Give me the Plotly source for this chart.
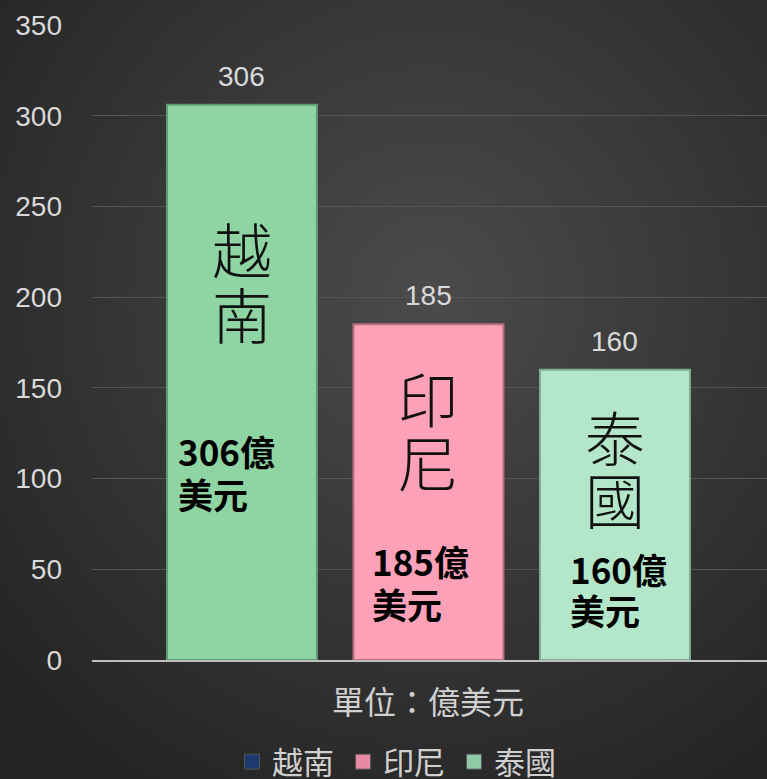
import plotly.graph_objects as go
import base64

countries = ["越南", "印尼", "泰國"]
values = [306, 185, 160]
bar_colors = ["#8fd4a3", "#fda1b8", "#b4e7c9"]
edge_colors = ["#5f9c72", "#b8707f", "#7fae92"]
legend_colors = ["#1f3a6e", "#e88aa3", "#8fc9a8"]
char_y = [[227.6, 191.8], [145.0, 109.7], [124.0, 89.3]]
note_lines = [["306億", "美元"], ["185億", "美元"], ["160億", "美元"]]
note_y = [[115.7, 92.0], [55.1, 31.4], [50.2, 27.6]]
note_dx = [-0.354, -0.311, -0.252]
yticks = [0, 50, 100, 150, 200, 250, 300, 350]
axis_title = "單位：億美元"

CJK = "Noto Sans CJK TC"
W, H = 767, 779
L, R, T, B = 92, 0, 25, 119
pw, ph = W - L - R, H - T - B

fig = go.Figure()
for i, (c, v) in enumerate(zip(countries, values)):
    fig.add_trace(go.Bar(
        x=[i], y=[v], width=0.804, name=c, showlegend=False,
        marker=dict(color=bar_colors[i], line=dict(color=edge_colors[i], width=2)),
        hoverinfo="skip",
    ))
for i, c in enumerate(countries):
    fig.add_trace(go.Scatter(
        x=[None], y=[None], mode="markers", name=c,
        marker=dict(symbol="square", size=15, color=legend_colors[i],
                    line=dict(color="#555555", width=1)),
    ))

ann = []
for i, v in enumerate(values):
    ann.append(dict(x=i, y=v, xref="x", yref="y", text=str(v), showarrow=False,
                    yanchor="bottom", yshift=11,
                    font=dict(family="Liberation Sans, Arial", size=28, color="#d9d9d9")))
    for ch, cy in zip(countries[i], char_y[i]):
        ann.append(dict(x=i, y=cy, xref="x", yref="y", text=ch, showarrow=False,
                        yanchor="middle",
                        font=dict(family=CJK, size=60, color="#111111", weight=300)))
    for line, ly in zip(note_lines[i], note_y[i]):
        ann.append(dict(x=i + note_dx[i], y=ly, xref="x", yref="y",
                        text=line, showarrow=False, xanchor="left", yanchor="middle",
                        font=dict(family=CJK, size=35, color="#000000", weight="bold")))
ann.append(dict(x=(428 - L) / pw, y=-40 / ph, xref="paper", yref="paper", text=axis_title,
                showarrow=False, yanchor="middle",
                font=dict(family=CJK, size=32, color="#d0d0d0")))

svg = f'''<svg xmlns="http://www.w3.org/2000/svg" width="{W}" height="{H}">
<defs><radialGradient id="g" cx="0.56" cy="0.38" r="0.75">
<stop offset="0" stop-color="#4b4b4b"/><stop offset="1" stop-color="#232323"/>
</radialGradient></defs><rect width="{W}" height="{H}" fill="url(#g)"/></svg>'''
src = "data:image/svg+xml;base64," + base64.b64encode(svg.encode()).decode()

fig.update_layout(
    width=W, height=H,
    margin=dict(l=L, r=R, t=T, b=B, autoexpand=False),
    paper_bgcolor="#333333", plot_bgcolor="rgba(0,0,0,0)",
    barmode="overlay",
    images=[dict(source=src, xref="paper", yref="paper", x=-L / pw, y=1 + T / ph,
                 sizex=W / pw, sizey=H / ph, sizing="stretch", xanchor="left",
                 yanchor="top", layer="below")],
    xaxis=dict(range=[-0.804, 2.815], showticklabels=False, showgrid=False,
               zeroline=False, showline=True, linecolor="#bfbfbf", linewidth=2,
               fixedrange=True),
    yaxis=dict(range=[0, 350], tickvals=yticks, showgrid=True, gridcolor="#555555",
               gridwidth=1, zeroline=False, ticks="", ticklabelstandoff=29,
               tickfont=dict(family="Liberation Sans, Arial", size=28, color="#d9d9d9")),
    legend=dict(orientation="h", x=(232 - L) / pw, xanchor="left",
                y=-102 / ph, yanchor="middle", bgcolor="rgba(0,0,0,0)",
                font=dict(family=CJK, size=31, color="#d0d0d0"),
                itemwidth=30, entrywidth=66, entrywidthmode="pixels", tracegroupgap=0),
    annotations=ann,
    showlegend=True,
)
fig.write_html("out.html", config={"displayModeBar": False},
               post_script="document.body.style.margin='0';document.body.style.overflow='hidden';")
